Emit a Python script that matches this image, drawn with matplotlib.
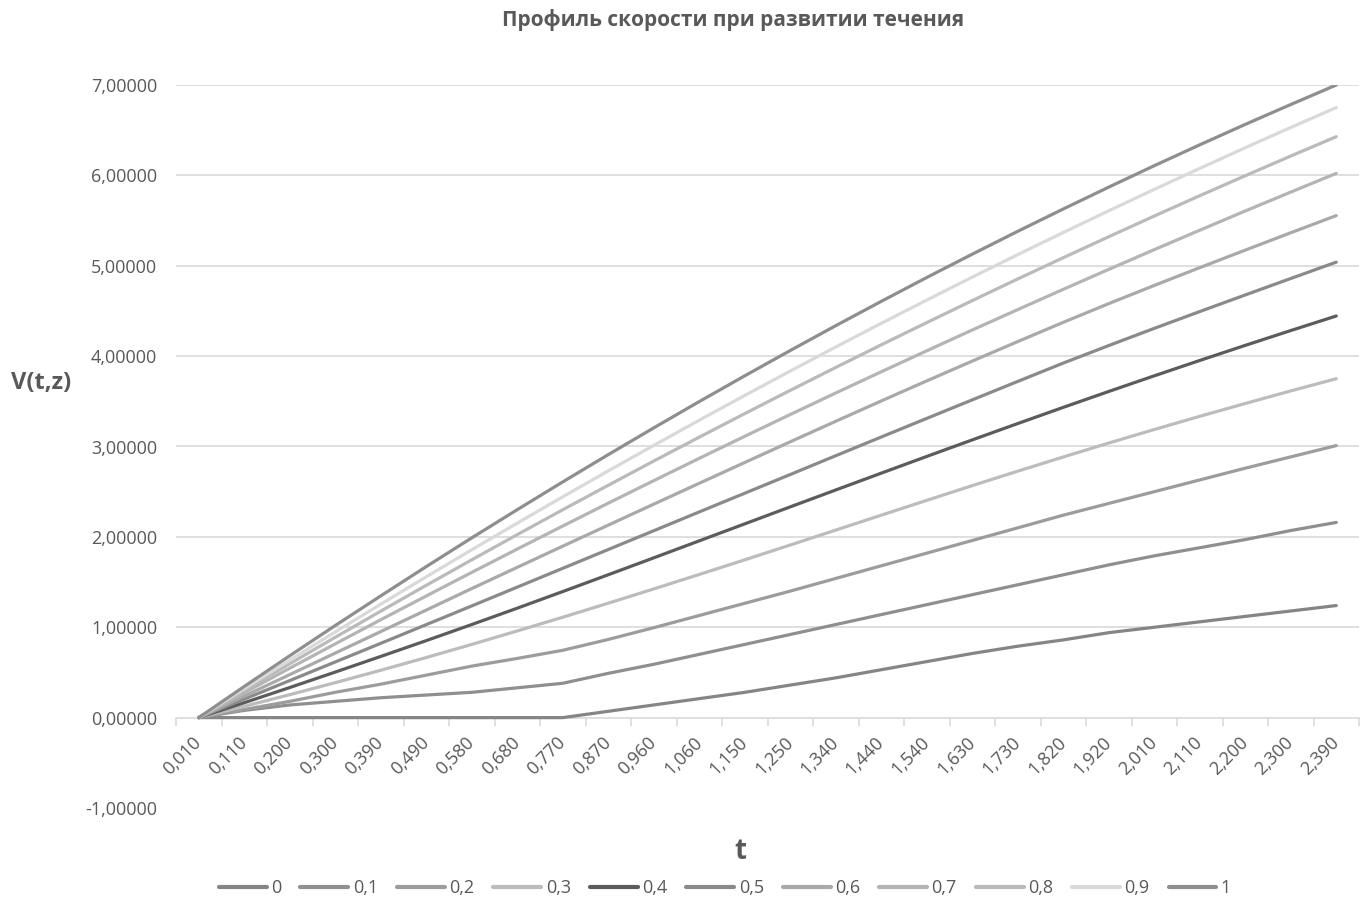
import numpy as np
import matplotlib
matplotlib.use("Agg")
import matplotlib.pyplot as plt
from matplotlib.ticker import FixedLocator, FuncFormatter

plt.rcParams['font.family'] = ['Open Sans', 'DejaVu Sans']

# time categories (labelled points of the table)
t_labels = ["0,010", "0,110", "0,200", "0,300", "0,390", "0,490", "0,580", "0,680",
            "0,770", "0,870", "0,960", "1,060", "1,150", "1,250", "1,340", "1,440",
            "1,540", "1,630", "1,730", "1,820", "1,920", "2,010", "2,110", "2,200",
            "2,300", "2,390"]

z_labels = ["0", "0,1", "0,2", "0,3", "0,4", "0,5", "0,6", "0,7", "0,8", "0,9", "1"]

# V(t, z) for each z layer
v_z00 = [0, 0, 0, 0, 0, 0, 0, 0, 0, 0.07, 0.14, 0.21, 0.28, 0.36, 0.44, 0.53,
         0.62, 0.71, 0.79, 0.86, 0.94, 1.00, 1.06, 1.12, 1.18, 1.24]
v_z01 = [0, 0.08, 0.14, 0.18, 0.22, 0.25, 0.28, 0.33, 0.38, 0.49, 0.59, 0.70, 0.81,
         0.92, 1.03, 1.14, 1.25, 1.36, 1.47, 1.58, 1.69, 1.79, 1.88, 1.97, 2.07, 2.16]
v_z02 = [0, 0.09, 0.18, 0.28, 0.37, 0.47, 0.57, 0.655, 0.745, 0.865, 0.995, 1.13,
         1.265, 1.40, 1.54, 1.68, 1.82, 1.96, 2.10, 2.24, 2.37, 2.50, 2.63, 2.76,
         2.885, 3.01]
v_z03 = [0, 0.125, 0.254, 0.387, 0.524, 0.665, 0.810, 0.959, 1.111, 1.266, 1.424,
         1.584, 1.746, 1.910, 2.075, 2.240, 2.404, 2.567, 2.727, 2.884, 3.038, 3.188,
         3.334, 3.476, 3.615, 3.750]
v_z04 = [0, 0.165, 0.333, 0.504, 0.677, 0.852, 1.030, 1.211, 1.395, 1.581, 1.768,
         1.956, 2.144, 2.332, 2.519, 2.705, 2.890, 3.073, 3.254, 3.433, 3.609, 3.782,
         3.952, 4.119, 4.283, 4.444]
v_z05 = [0, 0.205, 0.410, 0.616, 0.822, 1.029, 1.236, 1.444, 1.652, 1.860, 2.068,
         2.276, 2.483, 2.690, 2.898, 3.105, 3.311, 3.516, 3.720, 3.923, 4.117, 4.307,
         4.493, 4.677, 4.859, 5.040]
v_z06 = [0, 0.238, 0.476, 0.714, 0.952, 1.190, 1.428, 1.663, 1.897, 2.130, 2.362,
         2.593, 2.823, 3.052, 3.279, 3.504, 3.726, 3.945, 4.161, 4.374, 4.581, 4.782,
         4.979, 5.173, 5.365, 5.555]
v_z07 = [0, 0.275, 0.547, 0.816, 1.083, 1.346, 1.607, 1.865, 2.120, 2.373, 2.622,
         2.869, 3.113, 3.354, 3.592, 3.827, 4.059, 4.289, 4.515, 4.739, 4.960, 5.178,
         5.393, 5.606, 5.815, 6.022]
v_z08 = [0, 0.300, 0.596, 0.889, 1.178, 1.464, 1.746, 2.025, 2.300, 2.571, 2.839,
         3.103, 3.364, 3.621, 3.875, 4.125, 4.371, 4.614, 4.854, 5.089, 5.321, 5.550,
         5.775, 5.996, 6.214, 6.428]
v_z09 = [0, 0.320, 0.636, 0.948, 1.255, 1.558, 1.857, 2.152, 2.443, 2.730, 3.012,
         3.291, 3.565, 3.835, 4.101, 4.363, 4.620, 4.874, 5.123, 5.368, 5.608, 5.845,
         6.077, 6.306, 6.530, 6.750]
v_z10 = [0, 0.345, 0.685, 1.019, 1.347, 1.671, 1.989, 2.301, 2.608, 2.910, 3.206,
         3.497, 3.782, 4.062, 4.337, 4.606, 4.870, 5.128, 5.381, 5.628, 5.870, 6.107,
         6.338, 6.564, 6.784, 7.000]

series = [v_z00, v_z01, v_z02, v_z03, v_z04, v_z05, v_z06, v_z07, v_z08, v_z09, v_z10]
colors = ["#858585", "#8f8f8f", "#9c9c9c", "#bcbcbc", "#5c5c5c", "#8a8a8a",
          "#a9a9a9", "#b4b4b4", "#bababa", "#d9d9d9", "#8e8e8e"]
y_ticks = [-1, 0, 1, 2, 3, 4, 5, 6, 7]

text_color = "#595959"
grid_color = "#d9d9d9"

fig = plt.figure(figsize=(13.64, 9.05), dpi=100)
ax = fig.add_axes([176 / 1364, 1 - 808 / 905, (1359 - 176) / 1364, (808 - 85) / 905])

x = np.arange(len(t_labels))
for vals, col, lab in zip(series, colors, z_labels):
    ax.plot(x, vals, color=col, lw=2.3, label=lab, solid_capstyle='round',
            solid_joinstyle='round', zorder=3)

ax.set_xlim(-0.5, len(t_labels) - 0.5)
ax.set_ylim(-1, 7)

# value axis
ax.yaxis.set_major_locator(FixedLocator(y_ticks))
ax.yaxis.set_major_formatter(FuncFormatter(lambda v, p: f"{v:.5f}".replace(".", ",")))
ax.tick_params(axis='y', length=0, pad=13.5, labelsize=13, labelcolor=text_color)
ax.yaxis.grid(True, color=grid_color, lw=1.2, zorder=0)

# category axis at V = 0
for s in ['top', 'right', 'left']:
    ax.spines[s].set_visible(False)
ax.spines['bottom'].set_position(('data', 0))
ax.spines['bottom'].set_color(grid_color)
ax.spines['bottom'].set_linewidth(1.2)
ax.spines['bottom'].set_zorder(1)

ax.xaxis.set_major_locator(FixedLocator(np.arange(-0.5, len(t_labels), 1)))
ax.xaxis.set_major_formatter(FuncFormatter(lambda v, p: ""))
ax.xaxis.set_minor_locator(FixedLocator(x))
ax.set_xticklabels(t_labels, minor=True)
ax.tick_params(axis='x', which='major', direction='out', length=6, width=1.2, color=grid_color)
ax.tick_params(axis='x', which='minor', length=0, pad=16, labelsize=13, labelcolor=text_color)
for lbl in ax.get_xticklabels(minor=True):
    lbl.set_rotation(45)
    lbl.set_ha('right')
    lbl.set_va('center')
    lbl.set_rotation_mode('anchor')

# the zero level is drawn by the axis line; no rule at the bottom value
for gl, loc in zip(ax.get_ygridlines(), y_ticks):
    if loc in (0, -1):
        gl.set_visible(False)

fig.text(733 / 1364, 1 - 20 / 905, "Профиль скорости при развитии течения",
         ha='center', va='center', fontsize=15, fontweight='bold', color=text_color)
fig.text(41 / 1364, 1 - 383 / 905, "V(t,z)", ha='center', va='center',
         fontsize=17, fontweight='bold', color=text_color)
fig.text(740 / 1364, 1 - 851 / 905, "t", ha='center', va='center',
         fontsize=20, fontweight='bold', color=text_color)

leg = fig.legend(loc='center', bbox_to_anchor=(725 / 1364, 1 - 888 / 905), ncol=11,
                 frameon=False, fontsize=13, handlelength=2.65, handletextpad=0.25,
                 columnspacing=1.05, labelcolor=text_color)
for h in leg.get_lines():
    h.set_linewidth(3)

fig.savefig("out.png", dpi=100, facecolor='white')
